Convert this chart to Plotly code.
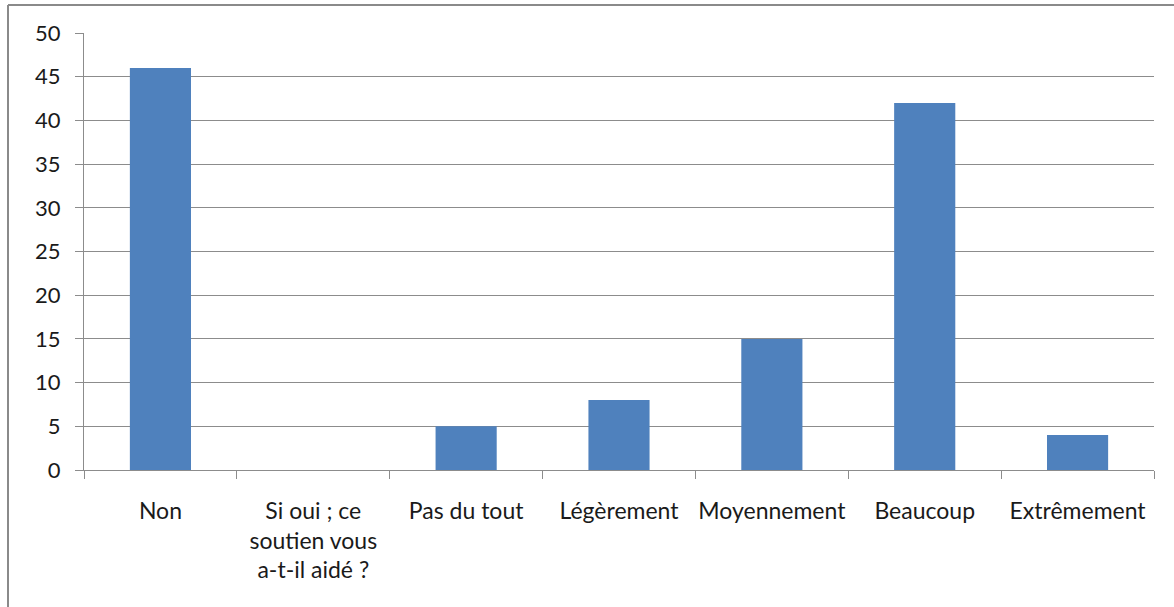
import plotly.graph_objects as go

categories = ["Non", "Si oui ; ce<br>soutien vous<br>a-t-il aidé ?", "Pas du tout", "Légèrement",
              "Moyennement", "Beaucoup", "Extrêmement"]
values = [46, 0, 5, 8, 15, 42, 4]
y_ticks = [0, 5, 10, 15, 20, 25, 30, 35, 40, 45, 50]

W, H = 1174, 607
L, R, T, B = 84, 20, 33, 137
pw, ph = W - L - R, H - T - B

def px_x(x):
    return (x - L) / pw

def px_y(y):
    return (H - B - y) / ph

fig = go.Figure(go.Bar(
    x=categories, y=values,
    marker=dict(color="#4F81BD", line=dict(width=0)),
))

grey = "#8C8C8C"
fig.update_layout(
    width=W, height=H,
    margin=dict(l=L, r=R, t=T, b=B, autoexpand=False),
    paper_bgcolor="white", plot_bgcolor="white",
    bargap=0.6,
    showlegend=False,
    font=dict(family="Lato, 'Open Sans', sans-serif", size=22, color="#1a1a1a"),
    xaxis=dict(
        showline=True, linecolor=grey, linewidth=1,
        ticks="outside", tickson="boundaries", ticklen=8, tickcolor=grey,
        showgrid=False, ticklabelstandoff=20,
        tickfont=dict(size=23), tickangle=0, automargin=False,
        mirror=False,
    ),
    yaxis=dict(
        range=[0, 50], tickvals=y_ticks,
        showline=True, linecolor=grey, linewidth=1,
        ticks="outside", ticklen=8, tickcolor=grey,
        showgrid=True, gridcolor=grey, gridwidth=1,
        zeroline=False, ticklabelstandoff=10, automargin=False,
    ),
    shapes=[
        dict(type="line", xref="paper", yref="paper",
             x0=px_x(8), x1=px_x(W + 5), y0=px_y(5), y1=px_y(5),
             line=dict(color="#8A8A8A", width=2)),
        dict(type="line", xref="paper", yref="paper",
             x0=px_x(8), x1=px_x(8), y0=px_y(5), y1=px_y(H + 5),
             line=dict(color="#8A8A8A", width=2)),
    ],
)

fig.write_html("out.html", config={"displayModeBar": False},
               post_script="document.body.style.margin='0';")
